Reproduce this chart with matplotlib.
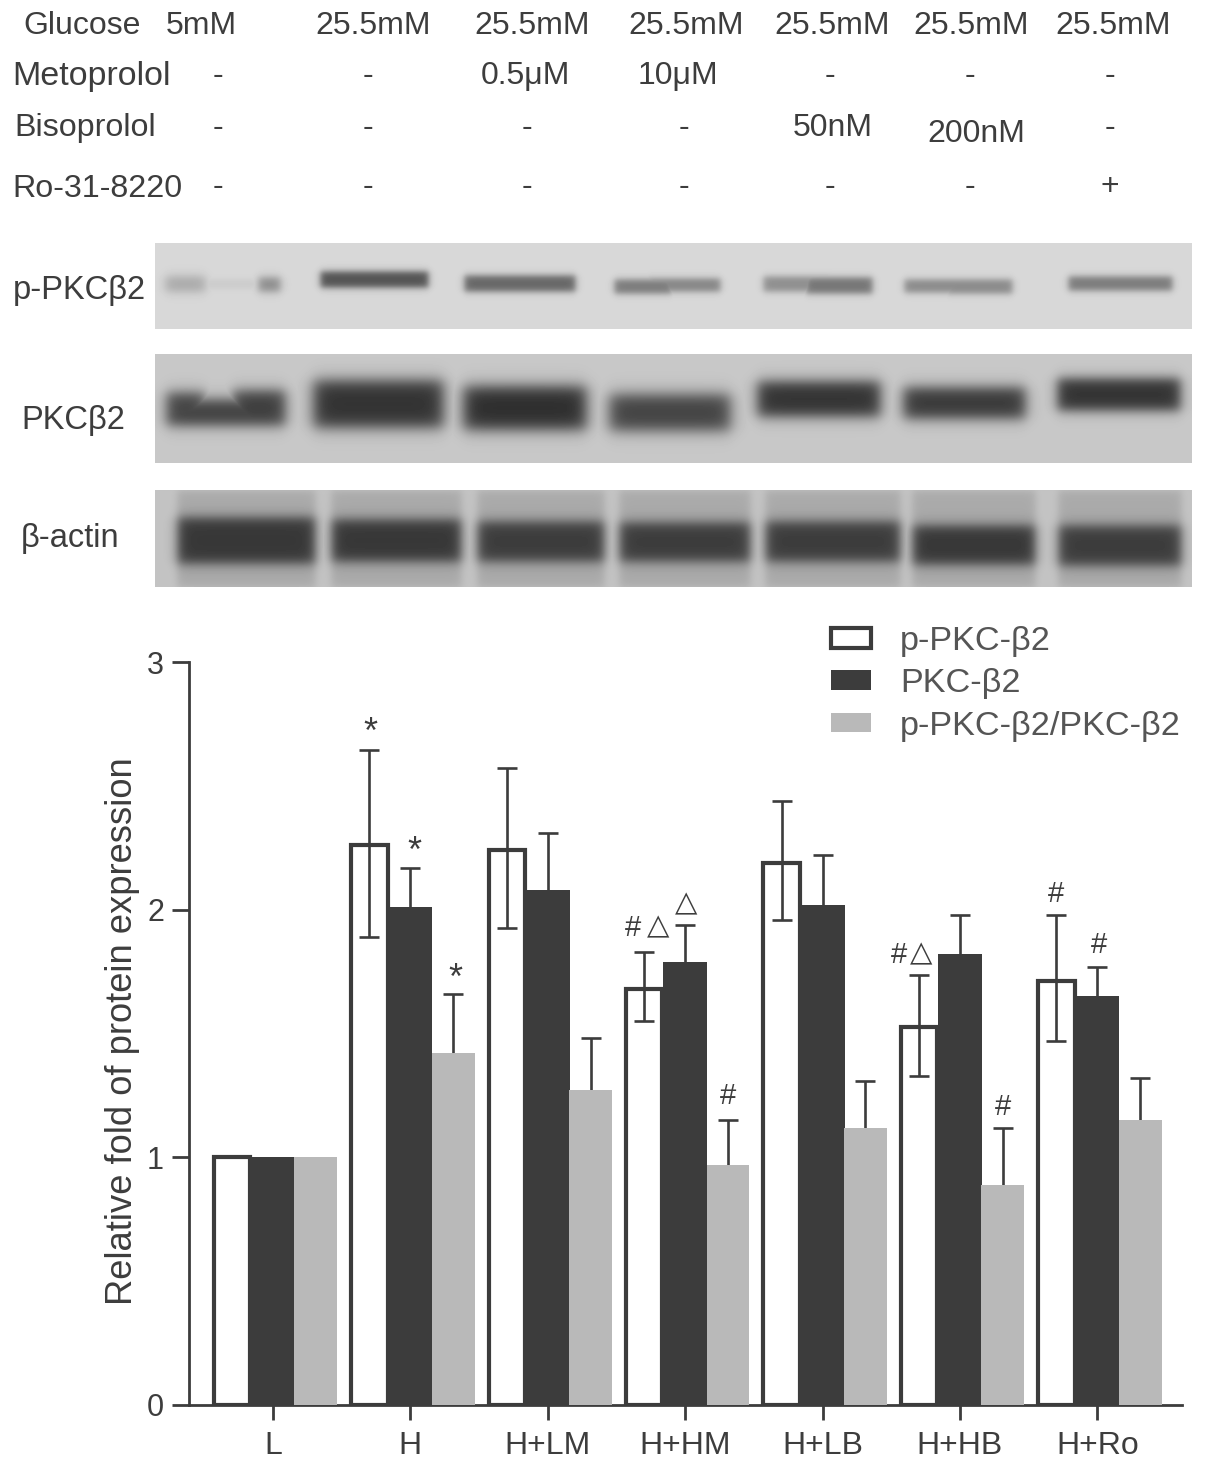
# -*- coding: utf-8 -*-
import numpy as np
import matplotlib
matplotlib.use("Agg")
import matplotlib.pyplot as plt

plt.rcParams['font.family'] = ['Liberation Sans', 'DejaVu Sans']

groups = ["L", "H", "H+LM", "H+HM", "H+LB", "H+HB", "H+Ro"]

pValues = [1.00, 2.26, 2.24, 1.68, 2.19, 1.525, 1.71]
pHigh = [1.00, 2.645, 2.57, 1.83, 2.44, 1.735, 1.98]
pLow = [1.00, 1.89, 1.925, 1.55, 1.96, 1.33, 1.47]

totalValues = [1.00, 2.01, 2.08, 1.79, 2.02, 1.82, 1.65]
totalHigh = [1.00, 2.17, 2.31, 1.94, 2.22, 1.98, 1.77]

ratioValues = [1.00, 1.42, 1.27, 0.97, 1.12, 0.89, 1.15]
ratioHigh = [1.00, 1.66, 1.48, 1.15, 1.31, 1.12, 1.32]

glucose = ["5mM", "25.5mM", "25.5mM", "25.5mM", "25.5mM", "25.5mM", "25.5mM"]
metoprolol = ["-", "-", "0.5μM", "10μM", "-", "-", "-"]
bisoprolol = ["-", "-", "-", "-", "50nM", "200nM", "-"]
ro318220 = ["-", "-", "-", "-", "-", "-", "+"]

TEXT = "#3d3d3d"
DARK = "#3c3c3c"
GREY = "#b9b9b9"
W, H = 1205, 1468


###############################################################################
def softBand(xx, yy, x0, x1, y0, y1, edge):
    fx = 0.5 * (np.tanh((xx - x0) / edge) - np.tanh((xx - x1) / edge))
    fy = 0.5 * (np.tanh((yy - y0) / edge) - np.tanh((yy - y1) / edge))
    return fx * fy


###############################################################################
def drawBlot(ax, top, bottom, base, bands, lanes=None):
    yy, xx = np.mgrid[top:bottom, 155:1192]
    img = np.full(xx.shape, float(base))
    if lanes is not None:
        for x0, x1, y0, y1, amount in lanes:
            img -= amount * softBand(xx, yy, x0, x1, y0, y1, 5)
    # overlapping lobes of one band must not add up
    dark = np.zeros(xx.shape)
    for x0, x1, y0, y1, amount, edge in bands:
        dark = np.maximum(dark, amount * softBand(xx, yy, x0, x1, y0, y1, edge))
    img -= dark
    ax.imshow(img, cmap="gray", vmin=0, vmax=255, extent=(155, 1192, bottom, top),
              interpolation="bilinear", aspect="auto", zorder=1)


###############################################################################
fig = plt.figure(figsize=(W / 100, H / 100), dpi=100, facecolor="white")

# pixel overlay for the blots and the treatment table
over = fig.add_axes([0, 0, 1, 1])
over.set_axis_off()

phosphoBands = [
    (165, 205, 276, 291, 50, 6), (195, 262, 279, 288, 14, 4), (258, 280, 277, 291, 80, 5),
    (320, 428, 271, 287, 135, 4), (464, 575, 275, 291, 115, 4),
    (614, 672, 279, 293, 95, 4), (645, 720, 278, 291, 85, 4),
    (763, 835, 276, 291, 75, 4), (805, 872, 277, 293, 100, 4),
    (904, 972, 279, 292, 80, 4), (945, 1012, 279, 293, 80, 4),
    (1068, 1172, 276, 290, 95, 4),
]
drawBlot(over, 243, 329, 216, phosphoBands)

totalBands = [
    (166, 285, 399, 425, 140, 8), (166, 205, 392, 425, 135, 8), (232, 285, 390, 425, 140, 8),
    (313, 443, 380, 427, 150, 9), (463, 586, 386, 429, 155, 9),
    (609, 730, 394, 430, 135, 9), (757, 880, 381, 416, 150, 8),
    (903, 1025, 387, 418, 145, 8), (1057, 1180, 378, 410, 150, 7),
]
drawBlot(over, 354, 463, 200, totalBands)

actinLanes = [
    (177, 315, 490, 587, 26), (331, 461, 490, 587, 26), (477, 604, 490, 587, 26),
    (619, 750, 490, 587, 26), (765, 900, 490, 587, 26), (912, 1035, 490, 587, 26),
    (1058, 1181, 490, 587, 26),
]
actinBands = [
    (177, 315, 517, 563, 115, 7), (331, 461, 519, 561, 115, 7), (477, 604, 521, 561, 110, 7),
    (619, 750, 522, 561, 110, 7), (765, 900, 521, 561, 110, 7), (912, 1035, 525, 564, 115, 7),
    (1058, 1181, 525, 565, 110, 7),
]
drawBlot(over, 490, 587, 196, actinBands, actinLanes)

over.set_xlim(0, W)
over.set_ylim(H, 0)

# treatment table
over.text(23, 26, "Glucose", fontsize=23, color=TEXT, ha="left", va="center")
over.text(12, 76, "Metoprolol", fontsize=24.5, color=TEXT, ha="left", va="center")
over.text(14, 128, "Bisoprolol", fontsize=23.2, color=TEXT, ha="left", va="center")
over.text(12, 189, "Ro-31-8220", fontsize=23.2, color=TEXT, ha="left", va="center")

glucoseX = [201, 373, 532, 686, 832, 971, 1113]
metoX = [218, 368, 525, 678, 830, 970, 1110]
bisoX = [218, 368, 527, 684, 833, 976, 1110]
roX = [218, 368, 527, 684, 830, 970, 1110]
for i in range(7):
    over.text(glucoseX[i], 26, glucose[i], fontsize=23, color=TEXT, ha="center", va="center")
    over.text(metoX[i], 76, metoprolol[i], fontsize=23, color=TEXT, ha="center", va="center")
    rowY = 134 if bisoprolol[i] == "200nM" else 128
    over.text(bisoX[i], rowY, bisoprolol[i], fontsize=23, color=TEXT, ha="center", va="center")
    over.text(roX[i], 187, ro318220[i], fontsize=23, color=TEXT, ha="center", va="center")

over.text(13, 290, "p-PKCβ2", fontsize=23.5, color=TEXT, ha="left", va="center")
over.text(21, 420, "PKCβ2", fontsize=23.5, color=TEXT, ha="left", va="center")
over.text(21, 538, "β-actin", fontsize=23.5, color=TEXT, ha="left", va="center")

# significance marks
marks = [
    ("*", 370, 733, 26), ("*", 414, 852, 26), ("*", 455, 979, 26),
    ("#", 633, 928, 21), ("△", 658, 926, 21), ("△", 686, 903, 21), ("#", 728, 1096, 21),
    ("#", 899, 955, 21), ("△", 921, 953, 21), ("#", 1003, 1107, 21),
    ("#", 1056, 894, 21), ("#", 1099, 945, 21),
]
for symbol, mx, my, size in marks:
    over.text(mx, my, symbol, fontsize=size, color=TEXT, ha="center", va="center", zorder=6)

###############################################################################
# bar chart, y=0 at pixel 1405, y=3 at pixel 662
ax = fig.add_axes([189 / W, (H - 1405) / H, (1182 - 189) / W, (1405 - 662) / H])
ax.patch.set_alpha(0)
x = np.arange(len(groups))
ax.set_xlim(-0.611, 6.616)
ax.set_ylim(0, 3)

barP = ax.bar(x - 0.298, pValues, 0.266, color="white", edgecolor=DARK, linewidth=3, zorder=2)
barT = ax.bar(x, totalValues, 0.322, color=DARK, edgecolor="none", zorder=3)
barR = ax.bar(x + 0.312, ratioValues, 0.312, color=GREY, edgecolor="none", zorder=3)

errStyle = dict(fmt="none", ecolor=DARK, elinewidth=1.9, capsize=7.5, capthick=1.9)
pErr = [np.array(pValues) - np.array(pLow), np.array(pHigh) - np.array(pValues)]
ax.errorbar(x[1:] - 0.298, np.array(pValues)[1:], yerr=[pErr[0][1:], pErr[1][1:]], zorder=4, **errStyle)
tErr = np.array(totalHigh) - np.array(totalValues)
errT = ax.errorbar(x[1:], np.array(totalValues)[1:], yerr=[np.zeros(6), tErr[1:]], zorder=2.5, **errStyle)
rErr = np.array(ratioHigh) - np.array(ratioValues)
errR = ax.errorbar(x[1:] + 0.312, np.array(ratioValues)[1:], yerr=[np.zeros(6), rErr[1:]], zorder=2.5, **errStyle)
# only the upper cap shows on the filled bars
errT[1][0].set_visible(False)
errR[1][0].set_visible(False)

for side in ["top", "right"]:
    ax.spines[side].set_visible(False)
for side in ["left", "bottom"]:
    ax.spines[side].set_linewidth(2)
    ax.spines[side].set_color(DARK)

ax.set_yticks([0, 1, 2, 3])
ax.set_xticks(x)
ax.set_xticklabels(groups)
ax.tick_params(axis="y", length=12, width=2, color=DARK, labelcolor=TEXT, labelsize=22, pad=6)
ax.tick_params(axis="x", length=11, width=2, color=DARK, labelcolor=TEXT, labelsize=23, pad=8)
ax.set_ylabel("Relative fold of protein expression", fontsize=26.2, color=TEXT)
ax.yaxis.set_label_coords(-0.049, 0.503)

leg = ax.legend([barP, barT, barR], ["p-PKC-β2", "PKC-β2", "p-PKC-β2/PKC-β2"],
                loc="upper left", bbox_to_anchor=(0.647, 1.0485), frameon=False,
                fontsize=24.7, labelcolor="#555555", handlelength=1.15, handleheight=0.5,
                handletextpad=0.85, labelspacing=0.33, borderaxespad=0, borderpad=0)

fig.savefig("out.png", dpi=100, facecolor="white")
